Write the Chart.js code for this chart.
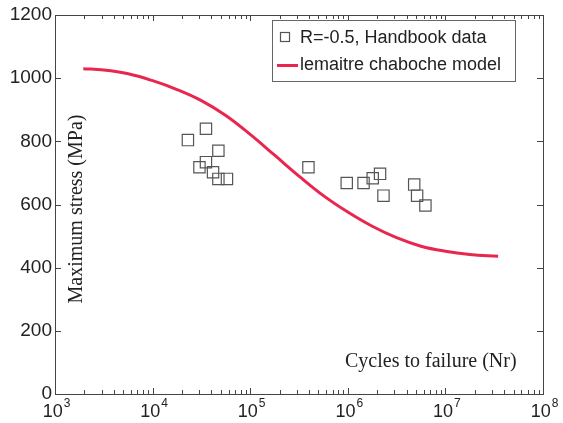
<!DOCTYPE html>
<html>
<head>
<meta charset="utf-8">
<script src="https://cdn.jsdelivr.net/npm/chart.js@4.4.1/dist/chart.umd.min.js"></script>
<style>
  html, body { margin: 0; padding: 0; background: #fff; }
  canvas { display: block; }
</style>
</head>
<body>
<canvas id="myChart" width="563" height="423"></canvas>
<script>
// test data, R=-0.5 (handbook)
const testCycles = [23000, 35200, 30200, 35200, 47200, 41600, 47200, 57800, 395000,
    975000, 1450000, 1800000, 2140000, 2320000, 4790000, 5130000, 6240000];
const testStress = [804, 840, 718, 734, 770, 702, 681, 681, 718,
    668, 668, 683, 697, 628, 663, 628, 597];

// lemaitre chaboche model curve (read every quarter decade)
const modelCycles = [1950, 3160, 5620, 10000, 17800, 31600, 56200, 100000, 178000,
    316000, 562000, 1000000, 1780000, 3160000, 5620000, 10000000, 17800000, 34700000];
const modelStress = [1030, 1026, 1014, 992, 964, 929, 882, 822, 756,
    690, 628, 576, 531, 495, 468, 452, 442, 436];

const xDecades = [3, 4, 5, 6, 7, 8];
const yTicks = [0, 200, 400, 600, 800, 1000, 1200];

const legendLabels = ['R=-0.5, Handbook data', 'lemaitre chaboche model'];
const xTitle = 'Cycles to failure (Nr)';
const yTitle = 'Maximum stress (MPa)';

const redColor = '#e8264e';
const axisColor = '#444';
const textColor = '#222';

// frame, inside ticks, superscript labels, titles and legend (matlab look)
const matlabAxes = {
    id: 'matlabAxes',
    afterDraw(chart) {
        const ctx = chart.ctx;
        const a = chart.chartArea;
        const xs = chart.scales.x;
        const ys = chart.scales.y;
        ctx.save();

        // box
        ctx.strokeStyle = axisColor;
        ctx.lineWidth = 1;
        ctx.strokeRect(a.left + 0.5, a.top + 0.5, a.right - a.left, a.bottom - a.top);

        // x ticks (major + minor), bottom and top
        ctx.beginPath();
        xDecades.forEach(function(n) {
            for (let k = 1; k <= 9; k++) {
                if (n === 8 && k > 1) break;
                const px = Math.round(xs.getPixelForValue(k * Math.pow(10, n))) + 0.5;
                const len = k === 1 ? 6 : 4;
                ctx.moveTo(px, a.bottom);
                ctx.lineTo(px, a.bottom - len);
                ctx.moveTo(px, a.top);
                ctx.lineTo(px, a.top + len);
            }
        });
        // y ticks, left and right
        yTicks.forEach(function(v) {
            const py = Math.round(ys.getPixelForValue(v)) + 0.5;
            ctx.moveTo(a.left, py);
            ctx.lineTo(a.left + 6, py);
            ctx.moveTo(a.right, py);
            ctx.lineTo(a.right - 6, py);
        });
        ctx.stroke();

        // x labels with superscript exponent
        ctx.fillStyle = textColor;
        ctx.textBaseline = 'alphabetic';
        ctx.textAlign = 'left';
        xDecades.forEach(function(n) {
            const px = xs.getPixelForValue(Math.pow(10, n));
            ctx.font = '18px "Liberation Sans", Arial, sans-serif';
            const wBase = ctx.measureText('10').width;
            ctx.font = '12px "Liberation Sans", Arial, sans-serif';
            const wExp = ctx.measureText(String(n)).width;
            const x0 = px - (wBase + wExp) / 2 + 1;
            ctx.font = '18px "Liberation Sans", Arial, sans-serif';
            ctx.fillText('10', x0, 417);
            ctx.font = '12px "Liberation Sans", Arial, sans-serif';
            ctx.fillText(String(n), x0 + wBase + 1, 407);
        });

        // axis titles inside the plot
        ctx.font = '20px "Liberation Serif", "Times New Roman", serif';
        ctx.textAlign = 'left';
        ctx.fillText(xTitle, 345, 367);
        ctx.save();
        ctx.translate(82, 209);
        ctx.rotate(-Math.PI / 2);
        ctx.textAlign = 'center';
        ctx.fillText(yTitle, 0, 0);
        ctx.restore();

        // legend box
        const lx = 272, ly = 20, lw = 243, lh = 61;
        ctx.fillStyle = '#fff';
        ctx.fillRect(lx, ly, lw, lh);
        ctx.strokeStyle = '#666';
        ctx.lineWidth = 1;
        ctx.strokeRect(lx + 0.5, ly + 0.5, lw, lh);

        ctx.strokeStyle = '#555';
        ctx.lineWidth = 1.2;
        ctx.strokeRect(280.5, 32.5, 9, 9);

        ctx.strokeStyle = redColor;
        ctx.lineWidth = 3;
        ctx.beginPath();
        ctx.moveTo(277, 65.5);
        ctx.lineTo(298, 65.5);
        ctx.stroke();

        ctx.fillStyle = textColor;
        ctx.font = '18px "Liberation Sans", Arial, sans-serif';
        ctx.textBaseline = 'middle';
        ctx.fillText(legendLabels[0], 300, 38);
        ctx.fillText(legendLabels[1], 300, 65);

        ctx.restore();
    }
};

const data = {
    datasets: [{
        type: 'line',
        label: legendLabels[1],
        data: modelCycles.map((c, i) => ({ x: c, y: modelStress[i] })),
        borderColor: redColor,
        borderWidth: 3,
        pointRadius: 0,
        showLine: true,
        tension: 0.4,
        fill: false
    }, {
        type: 'scatter',
        label: legendLabels[0],
        data: testCycles.map((c, i) => ({ x: c, y: testStress[i] })),
        pointStyle: 'rect',
        pointRadius: 8,
        borderColor: '#555',
        borderWidth: 1.2,
        backgroundColor: 'rgba(0,0,0,0)'
    }]
};

const config = {
    type: 'scatter',
    data: data,
    options: {
        responsive: false,
        animation: false,
        devicePixelRatio: 1,
        layout: { padding: { left: 0, right: 20, top: 15, bottom: 0 } },
        plugins: {
            legend: { display: false },
            tooltip: { enabled: false }
        },
        scales: {
            x: {
                type: 'logarithmic',
                min: 1000,
                max: 100000000,
                grid: { display: false, drawTicks: false },
                border: { display: false },
                ticks: { display: false },
                afterFit: function(scale) { scale.height = 29; }
            },
            y: {
                min: 0,
                max: 1200,
                grid: { display: false, drawTicks: false },
                border: { display: false },
                ticks: {
                    stepSize: 200,
                    padding: 3,
                    color: textColor,
                    font: { family: '"Liberation Sans", Arial, sans-serif', size: 19 },
                    callback: function(value) { return String(value); }
                },
                afterFit: function(scale) { scale.width = 55; }
            }
        }
    },
    plugins: [matlabAxes]
};

const ctx = document.getElementById('myChart').getContext('2d');
new Chart(ctx, config);
</script>
</body>
</html>
